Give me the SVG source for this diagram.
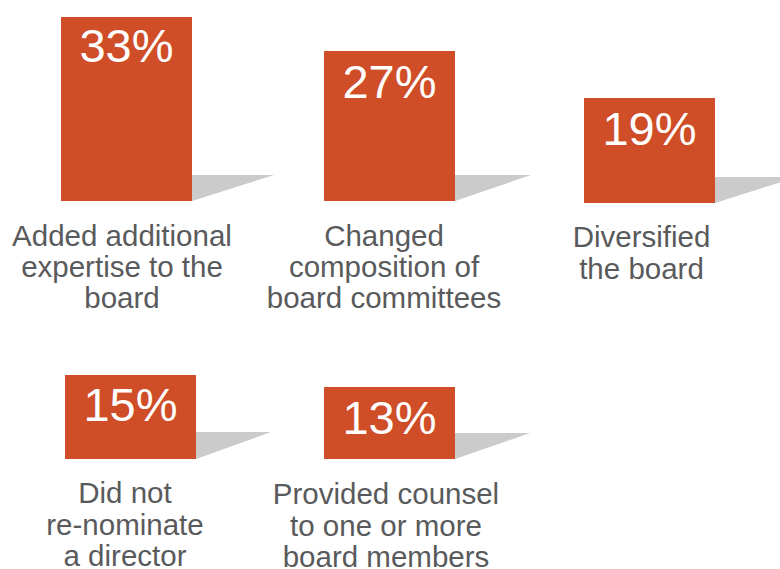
<svg xmlns="http://www.w3.org/2000/svg" width="780" height="569" viewBox="0 0 780 569">
<style>
.bar{fill:#cf4d27}
.shd{fill:#cbcbcb}
.pct{font-family:"Liberation Sans",Arial,Helvetica,sans-serif;font-size:47px;fill:#ffffff;text-anchor:middle}
.lbl{font-family:"Liberation Sans",Arial,Helvetica,sans-serif;font-size:29.5px;fill:#595a5c;text-anchor:middle}
</style>
<rect width="780" height="569" fill="#ffffff"/>
<g id="n1">
<polygon class="shd" points="192,175 274,175 192,201"/>
<rect class="bar" x="61" y="17" width="131" height="184"/>
<text class="pct" x="126.5" y="62">33%</text>
<text class="lbl" x="122" y="246">Added additional</text>
<text class="lbl" x="122" y="277">expertise to the</text>
<text class="lbl" x="122" y="308">board</text>
</g>
<g id="n2">
<polygon class="shd" points="455,175 531,175 455,201"/>
<rect class="bar" x="324" y="51" width="131" height="150"/>
<text class="pct" x="389.5" y="98">27%</text>
<text class="lbl" x="384" y="246">Changed</text>
<text class="lbl" x="384" y="277">composition of</text>
<text class="lbl" x="384" y="308">board committees</text>
</g>
<g id="n3">
<polygon class="shd" points="715,177 780,177 780,182.4 715,203"/>
<rect class="bar" x="584" y="98" width="131" height="105"/>
<text class="pct" x="649.5" y="145">19%</text>
<text class="lbl" x="641.5" y="247">Diversified</text>
<text class="lbl" x="641.5" y="279">the board</text>
</g>
<g id="n4">
<polygon class="shd" points="196,432 271,432 196,459"/>
<rect class="bar" x="65" y="375" width="131" height="84"/>
<text class="pct" x="130.5" y="421">15%</text>
<text class="lbl" x="125" y="503">Did not</text>
<text class="lbl" x="125" y="535">re-nominate</text>
<text class="lbl" x="125" y="566">a director</text>
</g>
<g id="n5">
<polygon class="shd" points="455,433 530,433 455,459"/>
<rect class="bar" x="324" y="387" width="131" height="72"/>
<text class="pct" x="389.5" y="434">13%</text>
<text class="lbl" x="386" y="504">Provided counsel</text>
<text class="lbl" x="386" y="536">to one or more</text>
<text class="lbl" x="386" y="567">board members</text>
</g>
<g id="connectors"></g>
</svg>
